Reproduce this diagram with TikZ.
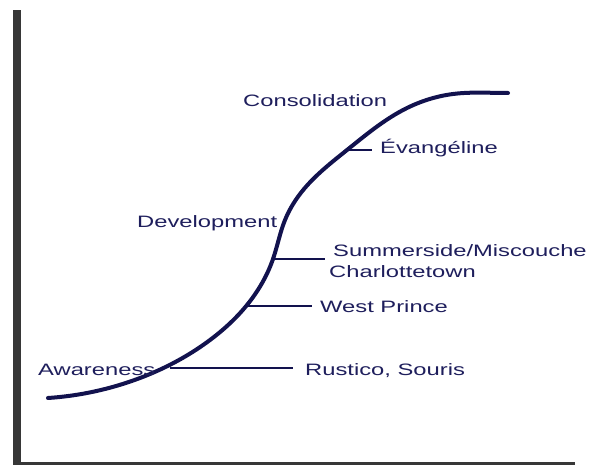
\documentclass[tikz,border=0pt]{standalone}
\usepackage{fontspec}
\usetikzlibrary{hobby}
\newfontfamily\labelfont[FakeStretch=1.44]{Liberation Sans}
\definecolor{axisgray}{RGB}{55,55,55}
\definecolor{curvenavy}{RGB}{18,18,78}
\definecolor{textnavy}{RGB}{30,30,92}
\begin{document}
\begin{tikzpicture}[x=1pt,y=-1pt,
  stage/.style={anchor=base west,inner sep=0pt,text=textnavy,
    font=\labelfont\fontsize{16.5}{19}\selectfont},
  leader/.style={draw=curvenavy,line width=1.8pt},
  scurve/.style={draw=curvenavy,line width=4pt,line cap=round,line join=round}]
  \useasboundingbox (0,0) rectangle (591,465);
  \fill[white] (0,0) rectangle (591,465);

  % axes
  \fill[axisgray] (13,10) rectangle (21,465);
  \fill[axisgray] (13,462) rectangle (575,465);

  % adoption curve, levelling off at the top
  \draw[scurve] (48,398) to[curve through={(140,378) (210,340) (247,305)
    (273,259) (285,220) (304,189) (347,150) (407,108) (453,94)},
    in angle=180] (508,93);

  % points on the curve and ends of the leaders
  \coordinate (pEva) at (347,150);  \coordinate (eEva) at (372,150);
  \coordinate (pSum) at (273,259);  \coordinate (eSum) at (325,259);
  \coordinate (pWest) at (247,306); \coordinate (eWest) at (312,306);
  \coordinate (pRus) at (170,368);  \coordinate (eRus) at (293,368);

  \draw[leader] (pEva) -- (eEva);
  \draw[leader] (pSum) -- (eSum);
  \draw[leader] (pWest) -- (eWest);
  \draw[leader] (pRus) -- (eRus);

  % stage names
  \node[stage] (consolidation) at (243,107) {Consolidation};
  \node[stage] (development) at (137,227) {Development};
  \node[stage] (awareness) at (38,375) {Awareness};

  % regions
  \node[stage] (evangeline) at (380,154) {Évangéline};
  \node[stage] (summerside) at (333,256) {Summerside/Miscouche};
  \node[stage] (charlottetown) at (329,277) {Charlottetown};
  \node[stage] (westprince) at (320,312) {West Prince};
  \node[stage] (rustico) at (305,375) {Rustico, Souris};
\end{tikzpicture}
\end{document}
